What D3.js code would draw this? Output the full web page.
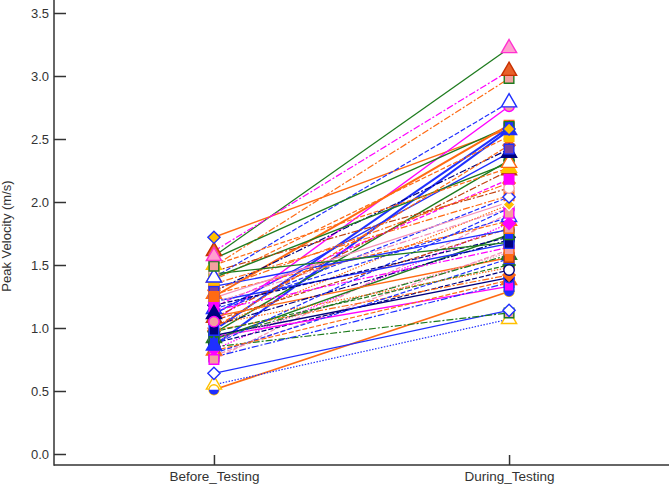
<!DOCTYPE html>
<html>
<head>
<meta charset="utf-8">
<script src="https://cdn.jsdelivr.net/npm/d3@7"></script>
<style>
  body { margin: 0; background: #fff; }
  text { font-family: "Liberation Sans", Arial, sans-serif; fill: #333; }
</style>
</head>
<body>
<script>
// paired subjects, peak velocity (m/s)
var conditions = ["Before_Testing", "During_Testing"];
var yTicks = [0, 0.5, 1.0, 1.5, 2.0, 2.5, 3.0, 3.5];
var yLabel = "Peak Velocity (m/s)";

var before = [1.57, 1.72, 1.61, 1.49, 1.40, 1.05, 1.55, 0.98, 0.86, 1.25,
              1.38, 1.29, 1.11, 1.40, 0.96, 1.50, 1.17, 1.45, 1.12, 1.01,
              0.75, 0.83, 1.06, 0.91, 1.21, 0.78, 1.09, 0.88, 0.98, 0.94,
              0.93, 0.51, 0.64, 0.85, 0.55, 1.20, 1.15, 1.35, 1.02, 0.80,
              1.27, 0.90, 1.08, 0.97, 1.33, 0.82, 1.14, 1.00, 0.87, 1.24,
              0.92, 1.18, 1.03, 0.77, 1.30, 1.43];
var during = [3.22, 2.58, 3.04, 2.98, 2.79, 2.76, 2.60, 2.59, 2.57, 2.61,
              2.52, 2.42, 2.39, 2.31, 2.33, 2.27, 2.18, 2.11, 2.04, 1.98,
              1.91, 1.83, 1.79, 1.74, 1.67, 1.62, 1.56, 1.46, 1.42, 1.40,
              1.33, 1.29, 1.14, 1.12, 1.07, 1.95, 1.88, 2.05, 1.70, 1.55,
              1.85, 1.60, 2.25, 1.50, 1.78, 1.38, 1.64, 2.45, 1.95, 2.00,
              1.58, 1.72, 1.48, 1.36, 2.15, 1.68];

// trace styles: [line colour, dash, width, marker, fill, stroke]
var B = "#1f2fff", O = "#ff6a13", G = "#1e7b1e", M = "#ff00ff", P = "#f490b8",
    N = "#00007f", R = "#c0400f", Y = "#ffc000", U = "#7b3fa0", K = "#f4a0a0";
var styles = [
  [G, "", 1.3, "triangle", "#ff9fcf", "#ff30d0"],
  [O, "", 1.4, "diamond", Y, B],
  [M, "dd", 1.2, "triangle", "#e8602a", "#c83000"],
  [O, "dd", 1.2, "square", K, G],
  [B, "dash", 1.2, "triangle", "#fff", B],
  [M, "", 1.4, "circle", K, M],
  [G, "", 1.4, "square", B, G],
  [B, "", 2, "square", N, B],
  [B, "", 2, "triangle", B, B],
  [O, "", 2, "square", O, O],
  [O, "dash", 1.2, "square", Y, Y],
  [N, "dd", 1.2, "square", U, B],
  [B, "", 1.3, "triangle", N, N],
  [G, "", 1.4, "triangle", "#fff", O],
  [G, "", 1.4, "circle", G, G],
  [O, "dash", 1.2, "triangle", Y, Y],
  [M, "dash", 1.2, "square", M, M],
  [R, "dd", 1.2, "circle", "#fff", K],
  [B, "dash", 1.2, "diamond", "#fff", B],
  [O, "dot", 1.2, "diamond", Y, "#fff"],
  [P, "dash", 1.2, "square", K, M],
  [M, "dot", 1.2, "diamond", M, M],
  [R, "dash", 1.2, "square", K, O],
  [G, "", 1.4, "square", B, G],
  [B, "", 1.4, "square", N, B],
  [P, "dash", 1.2, "square", K, O],
  [O, "", 1.4, "square", O, R],
  [N, "dash", 1.2, "circle", "#fff", N],
  [O, "dd", 1.2, "diamond", O, O],
  [N, "", 1.4, "circle", N, B],
  [M, "", 1.4, "square", M, B],
  [O, "", 1.7, "half", B, Y],
  [B, "", 1.3, "diamond", "#fff", B],
  [G, "dd", 1.2, "square", K, G],
  [B, "dot", 1.2, "triangle", "#fff", Y],
  [P, "dd", 1.2, "circle", K, P],
  [B, "dash", 1.2, "triangle", "#fff", B],
  [O, "dd", 1.2, "square", O, O],
  [N, "dd", 1.2, "circle", N, N],
  [B, "dash", 1.2, "square", B, B],
  [O, "dash", 1.2, "triangle", O, O],
  [P, "dot", 1.2, "circle", K, P],
  [R, "dd", 1.2, "triangle", R, R],
  [G, "dash", 1.2, "diamond", G, G],
  [B, "", 1.3, "circle", B, B],
  [O, "dash", 1.2, "triangle", O, O],
  [M, "dd", 1.2, "circle", M, M],
  [O, "dash", 1.2, "diamond", O, O],
  [B, "dash", 1.2, "circle", B, B],
  [P, "", 1.3, "triangle", K, "#fff"],
  [G, "dd", 1.2, "triangle", G, G],
  [N, "dash", 1.2, "diamond", N, N],
  [O, "dot", 1.2, "circle", O, O],
  [B, "dd", 1.2, "square", B, B],
  [O, "dd", 1.2, "diamond", O, O],
  [G, "", 1.3, "square", G, G]
];
var dashes = {"": null, "dash": "5,2", "dd": "7,2,2,2", "dot": "1.5,1.5"};

var width = 669, height = 485;
var axisX = 54, axisY = 465;

var svg = d3.select("body").append("svg")
    .attr("width", width)
    .attr("height", height);

var xScale = d3.scalePoint().domain(conditions).range([axisX, width]).padding(0.542);
var yScale = d3.scaleLinear().domain([0, 3.5]).range([454, 13]);

var pairs = before.map(function(b, i) {
    return {id: i, values: [{c: conditions[0], v: b}, {c: conditions[1], v: during[i]}], s: styles[i]};
});

var line = d3.line().x(d => xScale(d.c)).y(d => yScale(d.v));

var g_lines = svg.append("g");
g_lines.selectAll("path").data(pairs).enter()
    .append("path")
    .attr("d", d => line(d.values))
    .attr("fill", "none")
    .attr("stroke", d => d.s[0])
    .attr("stroke-width", d => d.s[2])
    .attr("stroke-dasharray", d => dashes[d.s[1]]);

var symbolTypes = {square: d3.symbolSquare, triangle: d3.symbolTriangle, diamond: d3.symbolDiamond2, circle: d3.symbolCircle};
var symbolSize = {square: 92, triangle: 100, diamond: 95, circle: 85};

var pts = [];
pairs.forEach(function(p) {
    p.values.forEach(function(v) { pts.push({c: v.c, v: v.v, s: p.s}); });
});
// last traces are drawn first so the early ones sit on top, like the reference
pts.reverse();

var g_pts = svg.append("g");
pts.forEach(function(d) {
    var tx = xScale(d.c), ty = yScale(d.v);
    var node = g_pts.append("g").attr("transform", "translate(" + tx + "," + ty + ")");
    if (d.s[3] == "half") {
        node.append("circle").attr("r", 5).attr("fill", "#fff").attr("stroke", d.s[5]).attr("stroke-width", 1.3);
        node.append("path").attr("d", "M-5,0A5,5 0 0 0 5,0Z").attr("fill", d.s[4]);
    } else {
        node.append("path")
            .attr("d", d3.symbol().type(symbolTypes[d.s[3]]).size(symbolSize[d.s[3]])())
            .attr("fill", d.s[4])
            .attr("stroke", d.s[5])
            .attr("stroke-width", 1.4);
    }
});

// axes
var yAxis = d3.axisLeft(yScale).tickValues(yTicks).tickFormat(d3.format(".1f"))
    .tickSizeInner(-12).tickSizeOuter(0).tickPadding(5);
var gy = svg.append("g").attr("transform", "translate(" + axisX + ",0)").call(yAxis);
gy.select(".domain").remove();
gy.selectAll(".tick line").attr("stroke", "#333").attr("stroke-width", 1.5);
gy.selectAll(".tick text").style("font-size", "13px").attr("fill", "#333");

var xAxis = d3.axisBottom(xScale).tickSizeInner(-10).tickSizeOuter(0).tickPadding(6);
var gx = svg.append("g").attr("transform", "translate(0," + axisY + ")").call(xAxis);
gx.select(".domain").remove();
gx.selectAll(".tick line").attr("stroke", "#333").attr("stroke-width", 1.5);
gx.selectAll(".tick text").style("font-size", "13.5px").attr("fill", "#333");

svg.append("line").attr("x1", axisX).attr("x2", axisX).attr("y1", 0).attr("y2", axisY + 0.75)
    .attr("stroke", "#333").attr("stroke-width", 1.5);
svg.append("line").attr("x1", axisX).attr("x2", width).attr("y1", axisY).attr("y2", axisY)
    .attr("stroke", "#333").attr("stroke-width", 1.5);

svg.append("text")
    .attr("transform", "translate(11,236) rotate(-90)")
    .attr("text-anchor", "middle")
    .style("font-size", "13px")
    .text(yLabel);
</script>
</body>
</html>
